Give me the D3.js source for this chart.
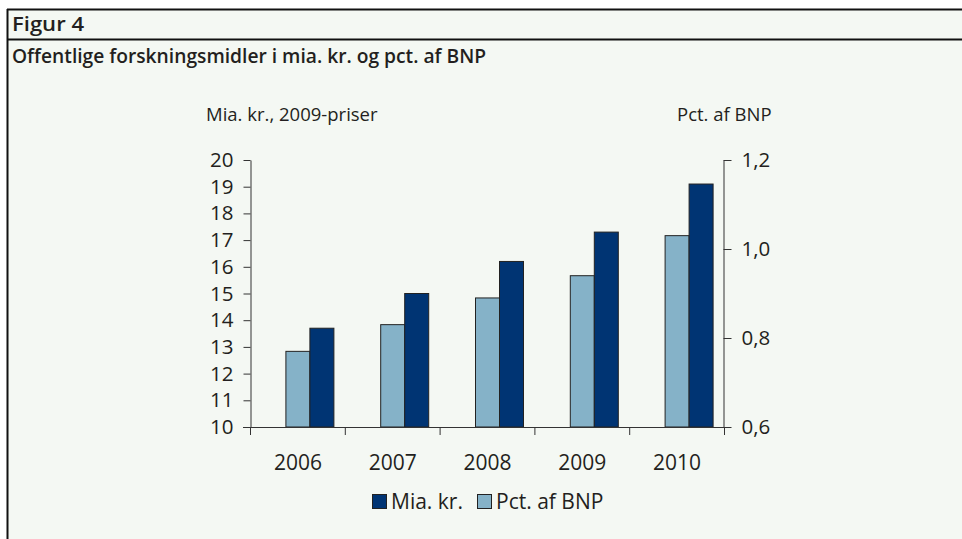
<!DOCTYPE html>
<html><head><meta charset="utf-8">
<script src="https://cdn.jsdelivr.net/npm/d3@7"></script>
<style>
html,body{margin:0;padding:0;background:#fff;}
svg{display:block;}
text{font-family:"Open Sans","DejaVu Sans",sans-serif;fill:#231f20;}
</style></head>
<body>
<svg id="chart" width="962" height="539"></svg>
<script>
const years = ["2006","2007","2008","2009","2010"];
const miaKr = [13.7, 15.0, 16.2, 17.3, 19.1];
const pctBNP = [0.77, 0.83, 0.89, 0.94, 1.03];
const leftTicks = [10,11,12,13,14,15,16,17,18,19,20];
const rightTicks = [0.6,0.8,1.0,1.2];
const seriesNames = ["Mia. kr.","Pct. af BNP"];
const colors = {"Mia. kr.":"#003473","Pct. af BNP":"#85b2c8"};

const svg = d3.select("#chart");
// frame
svg.append("rect").attr("x",7).attr("y",9).attr("width",960).attr("height",540).attr("fill","#f4f8f3");
svg.append("line").attr("x1",7).attr("x2",962).attr("y1",9.5).attr("y2",9.5).attr("stroke","#111").attr("stroke-width",2);
svg.append("line").attr("x1",7.5).attr("x2",7.5).attr("y1",9).attr("y2",539).attr("stroke","#111").attr("stroke-width",2);
svg.append("line").attr("x1",7).attr("x2",962).attr("y1",39.5).attr("y2",39.5).attr("stroke","#111").attr("stroke-width",2);

svg.append("text").attr("x",12).attr("y",31).attr("font-size",19).attr("font-weight","600")
  .attr("textLength",72).attr("lengthAdjust","spacingAndGlyphs").text("Figur 4");
svg.append("text").attr("x",12).attr("y",63).attr("font-size",20).attr("font-weight","600")
  .attr("textLength",474).attr("lengthAdjust","spacingAndGlyphs").text("Offentlige forskningsmidler i mia. kr. og pct. af BNP");

const yL = d3.scaleLinear().domain([10,20]).range([427,160]);
const yR = d3.scaleLinear().domain([0.6,1.2]).range([427,160]);
const x0 = d3.scaleBand().domain(years).range([250.5,724.5]).paddingInner(0).paddingOuter(0);
const bw = x0.bandwidth();
const x1 = d3.scaleBand().domain(["_","Pct. af BNP","Mia. kr."]).range([bw/2-36, bw/2+36]);

const g = svg.append("g");
// bars
years.forEach((yr,i)=>{
  g.append("rect").attr("x",x0(yr)+x1("Pct. af BNP")).attr("y",yR(pctBNP[i]))
    .attr("width",x1.bandwidth()).attr("height",yR(0.6)-yR(pctBNP[i]))
    .attr("fill",colors["Pct. af BNP"]).attr("stroke","#222").attr("stroke-width",1);
  g.append("rect").attr("x",x0(yr)+x1("Mia. kr.")).attr("y",yL(miaKr[i]))
    .attr("width",x1.bandwidth()).attr("height",yL(10)-yL(miaKr[i]))
    .attr("fill",colors["Mia. kr."]).attr("stroke","#222").attr("stroke-width",1);
});

// left axis
const la = g.append("g").attr("transform","translate(250.5,0)")
  .call(d3.axisLeft(yL).tickValues(leftTicks).tickSize(7).tickPadding(10).tickSizeOuter(0));
la.select(".domain").attr("stroke","#333");
la.selectAll(".tick line").attr("stroke","#333");
la.selectAll("text").attr("font-size",20.5).attr("fill","#231f20").attr("font-family","Open Sans");

// right axis
const ra = g.append("g").attr("transform","translate(723.5,0)")
  .call(d3.axisRight(yR).tickValues(rightTicks).tickSize(8).tickPadding(10).tickSizeOuter(0)
    .tickFormat(d=>d3.format(".1f")(d).replace(".",",")));
ra.select(".domain").attr("stroke","#333");
ra.selectAll(".tick line").attr("stroke","#333");
ra.selectAll("text").attr("font-size",20.5).attr("fill","#231f20").attr("font-family","Open Sans");

// bottom axis
g.append("line").attr("x1",243).attr("x2",731).attr("y1",427.5).attr("y2",427.5).attr("stroke","#333");
const bounds = years.map(y=>x0(y)).concat([x0(years[years.length-1])+bw]);
g.selectAll(".bt").data(bounds).enter().append("line")
  .attr("x1",d=>d).attr("x2",d=>d).attr("y1",427).attr("y2",435).attr("stroke","#333");
g.selectAll(".xl").data(years).enter().append("text")
  .attr("x",d=>x0(d)+bw/2).attr("y",470).attr("text-anchor","middle").attr("font-size",21).text(d=>d);

// axis titles
svg.append("text").attr("x",206).attr("y",121).attr("font-size",18.5).text("Mia. kr., 2009-priser");
svg.append("text").attr("x",677).attr("y",121).attr("font-size",18.5).text("Pct. af BNP");

// legend
const leg = svg.append("g");
const legItems = [{name:"Mia. kr.",x:372},{name:"Pct. af BNP",x:477}];
legItems.forEach(it=>{
  leg.append("rect").attr("x",it.x+0.5).attr("y",494.5).attr("width",14).attr("height",14)
    .attr("fill",colors[it.name]).attr("stroke","#222");
  leg.append("text").attr("x",it.x+19).attr("y",509).attr("font-size",21).text(it.name);
});
</script>
</body></html>
